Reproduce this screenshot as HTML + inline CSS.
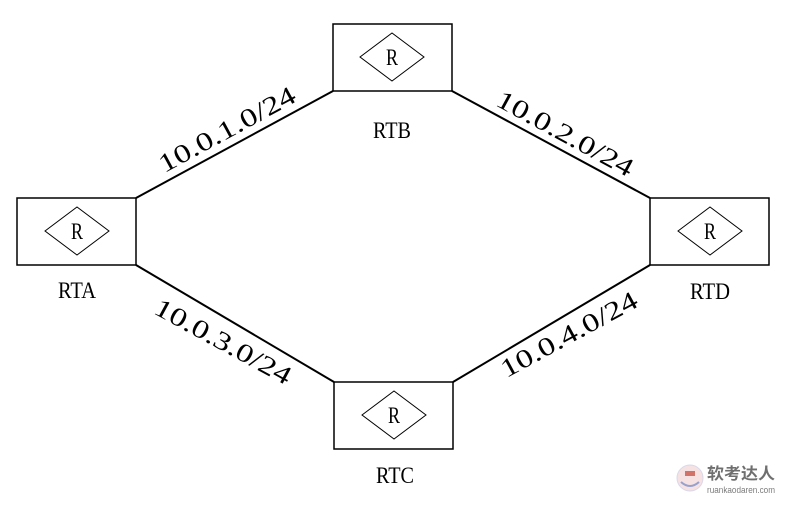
<!DOCTYPE html>
<html><head><meta charset="utf-8"><style>html,body{margin:0;padding:0;background:#fff}</style></head>
<body>
<svg width="787" height="503" xmlns="http://www.w3.org/2000/svg" font-family="Liberation Serif, serif">
<rect width="787" height="503" fill="#fff"/>
<g fill="none" stroke="#000" stroke-width="1.5">
<rect x="333" y="24" width="119" height="67"/>
<rect x="17" y="198" width="119" height="67"/>
<rect x="650" y="198" width="119" height="67"/>
<rect x="334" y="382" width="119" height="67"/>
</g>
<g fill="none" stroke="#000" stroke-width="1">
<polygon points="360,57 392,33 424,57 392,81"/>
<polygon points="45,231 77,207 109,231 77,255"/>
<polygon points="678,231 710,207 742,231 710,255"/>
<polygon points="362,415 394,391 426,415 394,439"/>
</g>
<g stroke="#000" stroke-width="2">
<line x1="136" y1="198" x2="333" y2="91"/>
<line x1="452" y1="91" x2="650" y2="198"/>
<line x1="136" y1="265" x2="334" y2="382"/>
<line x1="453" y1="382" x2="650" y2="265"/>
</g>
<g font-size="23" text-anchor="middle" fill="#000">
<text x="392" y="65" textLength="12" lengthAdjust="spacingAndGlyphs">R</text>
<text x="77" y="239" textLength="12" lengthAdjust="spacingAndGlyphs">R</text>
<text x="710" y="239" textLength="12" lengthAdjust="spacingAndGlyphs">R</text>
<text x="394" y="423" textLength="12" lengthAdjust="spacingAndGlyphs">R</text>
<text x="392" y="138" textLength="38" lengthAdjust="spacingAndGlyphs">RTB</text>
<text x="77" y="298" textLength="38" lengthAdjust="spacingAndGlyphs">RTA</text>
<text x="710" y="299" textLength="40" lengthAdjust="spacingAndGlyphs">RTD</text>
<text x="395" y="483" textLength="38" lengthAdjust="spacingAndGlyphs">RTC</text>
</g>
<g font-size="26" text-anchor="middle" fill="#000">
<text transform="translate(231,137) rotate(-28.5)" textLength="152" lengthAdjust="spacingAndGlyphs">10.0.1.0/24</text>
<text transform="translate(561,141) rotate(28.5)" textLength="152" lengthAdjust="spacingAndGlyphs">10.0.2.0/24</text>
<text transform="translate(219,349) rotate(28.5)" textLength="152" lengthAdjust="spacingAndGlyphs">10.0.3.0/24</text>
<text transform="translate(573,342) rotate(-28.5)" textLength="152" lengthAdjust="spacingAndGlyphs">10.0.4.0/24</text>
</g>
<g opacity="0.7">
<circle cx="690" cy="478" r="13" fill="#f3d6d6" stroke="#c8c8e0"/>
<path d="M681,482 q9,8 18,0" stroke="#6a7ab8" stroke-width="2" fill="none"/>
<rect x="685" y="471" width="10" height="5" fill="#c0392b"/>
<text x="707" y="479" font-family="Noto Sans CJK SC, sans-serif" font-size="16" font-weight="bold" fill="#333" textLength="68" lengthAdjust="spacingAndGlyphs">软考达人</text>
<text x="707" y="493" font-family="Liberation Sans, sans-serif" font-size="9" fill="#444" textLength="68" lengthAdjust="spacingAndGlyphs">ruankaodaren.com</text>
</g>
</svg>
</body></html>
